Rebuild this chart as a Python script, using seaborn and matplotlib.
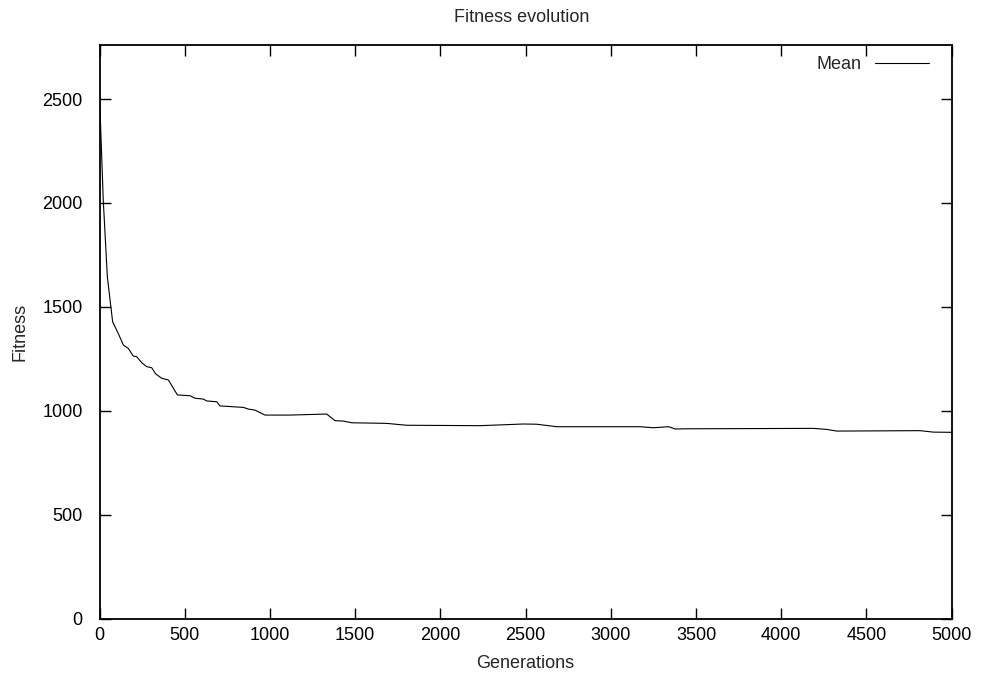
import matplotlib
matplotlib.use("Agg")
import matplotlib.pyplot as plt
import seaborn as sns
import pandas as pd

# Mean fitness per generation
generations = [0, 22, 46, 77, 110, 140, 169, 198, 218, 248, 277, 306, 330, 365,
               404, 457, 531, 560, 609, 629, 688, 707, 844, 873, 912, 971, 1118,
               1333, 1382, 1431, 1480, 1685, 1802, 2233, 2487, 2565, 2683, 2819,
               3171, 3249, 3340, 3377, 3446, 4189, 4267, 4326, 4814, 4892, 5000]
mean_fitness = [2520, 2014, 1645, 1428, 1372, 1316, 1300, 1263, 1260, 1231, 1212,
                1207, 1177, 1156, 1148, 1076, 1072, 1060, 1056, 1047, 1043, 1023,
                1016, 1008, 1003, 979, 979, 984, 952, 950, 942, 939, 930, 928,
                936, 935, 923, 923, 923, 918, 923, 912, 913, 915, 910, 902, 904,
                897, 896]

x_ticks = [0, 500, 1000, 1500, 2000, 2500, 3000, 3500, 4000, 4500, 5000]
y_ticks = [0, 500, 1000, 1500, 2000, 2500]

df = pd.DataFrame({"Generations": generations, "Fitness": mean_fitness})

sns.set_style("ticks")
plt.rcParams["font.family"] = ["Liberation Sans", "DejaVu Sans"]

W, H = 981, 679
fig = plt.figure(figsize=(W / 100, H / 100), dpi=100)
left, right, top, bottom = 99.5, 951.7, 45, 618.5
ax = fig.add_axes([left / W, 1 - bottom / H, (right - left) / W, (bottom - top) / H])

sns.lineplot(data=df, x="Generations", y="Fitness", ax=ax, color="black",
             linewidth=0.8, label="Mean")

ax.set_xlim(0, 5000)
ax.set_ylim(0, 2760)
ax.set_xticks(x_ticks)
ax.set_yticks(y_ticks)
ax.tick_params(direction="in", length=8, width=1.0, top=True, right=True,
               labelsize=13, colors="black")
ax.tick_params(axis="y", pad=12)
ax.tick_params(axis="x", pad=6)
for s in ax.spines.values():
    s.set_linewidth(1.3)
    s.set_color("black")

ax.set_xlabel("Generations", fontsize=13)
ax.xaxis.set_label_coords(0.5, -(663 - bottom) / (bottom - top))
ax.xaxis.label.set_va("center")
ax.set_ylabel("Fitness", fontsize=13)
ax.yaxis.set_label_coords(-(left - 20) / (right - left), 0.5)
ax.yaxis.label.set_va("center")
fig.text(522 / W, 1 - 17 / H, "Fitness evolution", ha="center",
         va="center", fontsize=13)

leg = ax.legend(loc="upper right", frameon=False, fontsize=13,
                markerfirst=False, handlelength=3.0, handletextpad=0.7,
                borderaxespad=0, bbox_to_anchor=(0.9816, 0.993))

fig.savefig("out.png", dpi=100)
